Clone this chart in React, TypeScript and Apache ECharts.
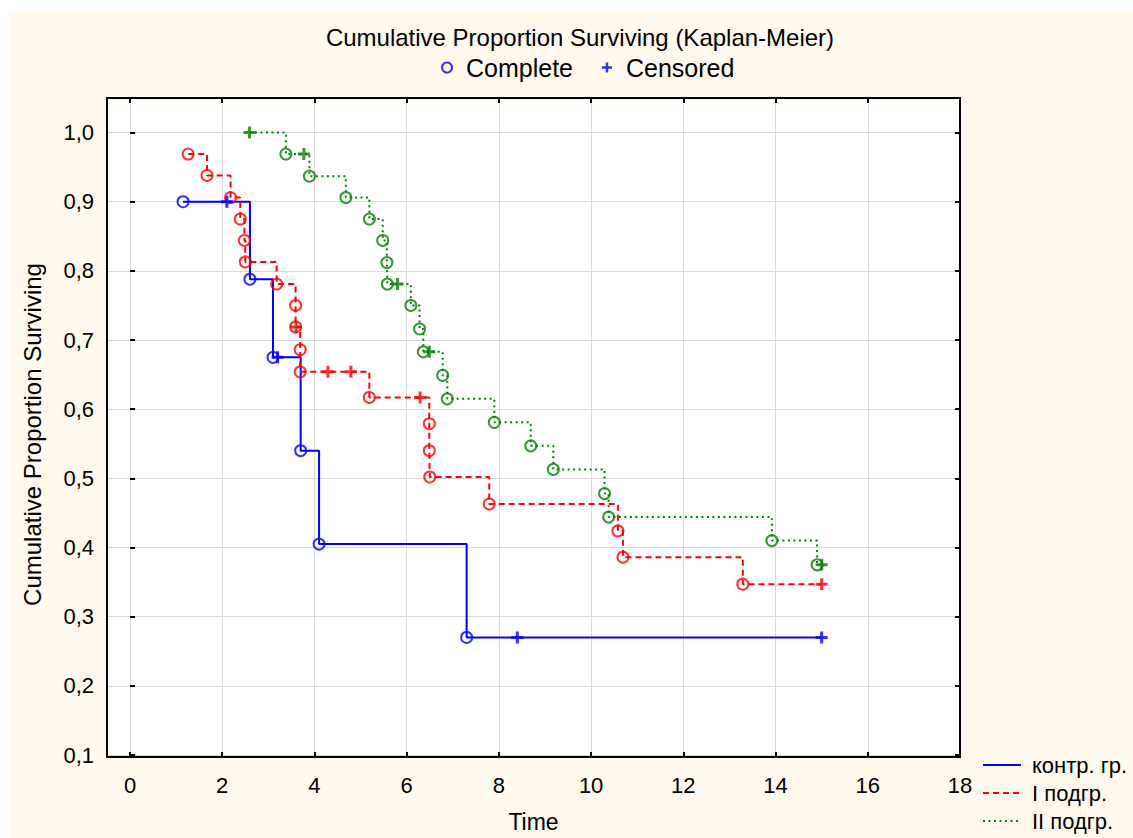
import React, { useEffect, useRef } from "react";
import * as echarts from "echarts";

// ---- data (time, cumulative proportion surviving, censored flag) ----
const blueTime = [1.15, 2.1, 2.6, 3.1, 3.2, 3.7, 4.1, 7.3, 8.4, 15.0];
const blueSurv = [0.9, 0.9, 0.788, 0.675, 0.675, 0.54, 0.405, 0.27, 0.27, 0.27];
const blueCens = [0, 1, 0, 0, 1, 0, 0, 0, 1, 1];

const redTime = [1.26, 1.67, 2.18, 2.39, 2.48, 2.5, 3.18, 3.59, 3.59, 3.6, 3.69, 3.69, 4.29, 4.79, 5.19, 6.29, 6.49, 6.49, 6.5, 7.79, 10.58, 10.69, 13.29, 15.0];
const redSurv = [0.969, 0.938, 0.906, 0.875, 0.844, 0.813, 0.781, 0.75, 0.719, 0.719, 0.686, 0.654, 0.654, 0.654, 0.617, 0.617, 0.579, 0.54, 0.502, 0.463, 0.424, 0.386, 0.347, 0.347];
const redCens = [0, 0, 0, 0, 0, 0, 0, 0, 0, 1, 0, 0, 1, 1, 0, 1, 0, 0, 0, 0, 0, 0, 0, 1];

const greenTime = [2.59, 3.38, 3.77, 3.89, 4.68, 5.19, 5.48, 5.57, 5.58, 5.8, 6.09, 6.28, 6.36, 6.49, 6.78, 6.88, 7.9, 8.69, 9.18, 10.29, 10.38, 13.92, 14.9, 15.0];
const greenSurv = [1.0, 0.969, 0.969, 0.937, 0.906, 0.875, 0.844, 0.812, 0.781, 0.781, 0.75, 0.716, 0.683, 0.683, 0.649, 0.615, 0.581, 0.547, 0.513, 0.478, 0.444, 0.41, 0.375, 0.375];
const greenCens = [1, 0, 1, 0, 0, 0, 0, 0, 0, 1, 0, 0, 0, 1, 0, 0, 0, 0, 0, 0, 0, 0, 0, 1];

const groupNames = ["контр. гр.", "I подгр.", "II подгр."];
const markerNames = ["Complete", "Censored"];
const titleText = "Cumulative Proportion Surviving (Kaplan-Meier)";
const xName = "Time";
const yName = "Cumulative Proportion Surviving";

const BLUE = "#0000ff";
const RED = "#ff0000";
const GREEN = "#008000";
const FONT = "'Liberation Sans', Arial, Helvetica, sans-serif";
const PLUS = "path://M3.75,0H6.25V3.75H10V6.25H6.25V10H3.75V6.25H0V3.75H3.75Z";

const pts = (t: number[], s: number[]) => t.map((v, i) => [v, s[i]]);
const pick = (t: number[], s: number[], c: number[], flag: number) =>
  t.map((v, i) => [v, s[i], c[i]]).filter((p) => p[2] === flag).map((p) => [p[0], p[1]]);

function buildOption() {
  const groups = [
    { name: groupNames[0], t: blueTime, s: blueSurv, c: blueCens, color: BLUE, type: "solid" as any },
    { name: groupNames[1], t: redTime, s: redSurv, c: redCens, color: RED, type: [6, 4] as any },
    { name: groupNames[2], t: greenTime, s: greenSurv, c: greenCens, color: GREEN, type: [2, 3.5] as any },
  ];
  const series: any[] = [];
  groups.forEach((g) => {
    series.push({
      name: g.name,
      type: "line",
      step: "end",
      xAxisIndex: 0,
      yAxisIndex: 0,
      symbol: "none",
      data: pts(g.t, g.s),
      lineStyle: { color: g.color, width: 2, type: g.type },
      itemStyle: { color: g.color },
      z: 2,
    });
  });
  groups.forEach((g) => {
    series.push({
      name: g.name + " complete",
      type: "scatter",
      xAxisIndex: 0,
      yAxisIndex: 0,
      symbol: "circle",
      symbolSize: 11,
      data: pick(g.t, g.s, g.c, 0),
      itemStyle: { color: "rgba(0,0,0,0)", borderColor: g.color, borderWidth: 2 },
      z: 3,
    });
    series.push({
      name: g.name + " censored",
      type: "scatter",
      xAxisIndex: 0,
      yAxisIndex: 0,
      symbol: PLUS,
      symbolSize: 12,
      data: pick(g.t, g.s, g.c, 1),
      itemStyle: { color: g.color },
      z: 4,
    });
  });
  series.push({
    name: markerNames[0],
    type: "scatter",
    xAxisIndex: 1,
    yAxisIndex: 2,
    symbol: "circle",
    data: [],
    itemStyle: { color: "rgba(0,0,0,0)", borderColor: BLUE, borderWidth: 2 },
  });
  series.push({
    name: markerNames[1],
    type: "scatter",
    xAxisIndex: 1,
    yAxisIndex: 2,
    symbol: PLUS,
    data: [],
    itemStyle: { color: BLUE },
  });

  const tickStyle = { inside: true, length: 5, lineStyle: { color: "#000", width: 2 } };
  const gridColor = "#d9d9d9";

  return {
    animation: false,
    backgroundColor: "#fff9ee",
    textStyle: { fontFamily: FONT, color: "#000" },
    title: {
      text: titleText,
      left: 571,
      top: 14,
      padding: 0,
      textAlign: "center",
      textStyle: { fontSize: 24, fontWeight: "normal", color: "#000", fontFamily: FONT },
    },
    legend: [
      {
        data: [
          { name: markerNames[0], icon: "circle", itemStyle: { color: "rgba(0,0,0,0)", borderColor: BLUE, borderWidth: 2 } },
          { name: markerNames[1], icon: PLUS, itemStyle: { color: BLUE } },
        ],
        left: 432,
        top: 44,
        padding: 0,
        itemWidth: 10,
        itemHeight: 10,
        itemGap: 29,
        selectedMode: false,
        textStyle: { fontSize: 25, color: "#000", fontFamily: FONT, padding: [0, 0, 0, 9] },
      },
      {
        data: groupNames,
        orient: "vertical",
        left: 973,
        top: 743,
        padding: 0,
        itemWidth: 38,
        itemHeight: 14,
        itemGap: 6,
        selectedMode: false,
        itemStyle: { opacity: 0, color: "rgba(0,0,0,0)", borderWidth: 0 },
        textStyle: { fontSize: 22, color: "#000", fontFamily: FONT, padding: [0, 0, 0, 6] },
      },
    ],
    grid: [
      { left: 98, top: 87, width: 853, height: 659, show: true, backgroundColor: "#fff", borderWidth: 0, containLabel: false },
      { left: 121, top: 87, width: 830, height: 659, show: false, containLabel: false },
    ],
    xAxis: [
      {
        gridIndex: 0,
        type: "value",
        min: -0.5,
        max: 18,
        position: "bottom",
        axisLine: { show: false },
        axisTick: { show: false },
        axisLabel: { show: false },
        splitLine: { show: false },
        name: xName,
        nameLocation: "middle",
        nameGap: 55,
        nameTextStyle: { fontSize: 23, color: "#000", fontFamily: FONT },
      },
      {
        gridIndex: 1,
        type: "value",
        min: 0,
        max: 18,
        interval: 2,
        position: "bottom",
        axisLine: { show: false },
        axisTick: tickStyle,
        axisLabel: { fontSize: 22, color: "#000", margin: 17, fontFamily: FONT },
        splitLine: { show: true, lineStyle: { color: gridColor, width: 1 } },
      },
      {
        gridIndex: 1,
        type: "value",
        min: 0,
        max: 18,
        interval: 2,
        position: "top",
        axisLine: { show: false },
        axisTick: tickStyle,
        axisLabel: { show: false },
        splitLine: { show: false },
      },
    ],
    yAxis: [
      {
        gridIndex: 0,
        type: "value",
        min: 0.1,
        max: 1.05,
        interval: 0.1,
        position: "left",
        axisLine: { show: false },
        axisTick: tickStyle,
        axisLabel: {
          fontSize: 22,
          color: "#000",
          margin: 13,
          fontFamily: FONT,
          showMaxLabel: false,
          formatter: (v: number) => v.toFixed(1).replace(".", ","),
        },
        splitLine: { show: true, lineStyle: { color: gridColor, width: 1 } },
        name: yName,
        nameLocation: "middle",
        nameGap: 63,
        nameTextStyle: { fontSize: 24, color: "#000", fontFamily: FONT, padding: [0, 16, 0, 0] },
      },
      {
        gridIndex: 0,
        type: "value",
        min: 0.1,
        max: 1.05,
        interval: 0.1,
        position: "right",
        axisLine: { show: false },
        axisTick: tickStyle,
        axisLabel: { show: false },
        splitLine: { show: false },
      },
      { gridIndex: 1, type: "value", min: 0.1, max: 1.05, show: false },
    ],
    graphic: [
      {
        type: "rect",
        z: 100,
        silent: true,
        shape: { x: 98, y: 87, width: 853, height: 659 },
        style: { fill: "none", stroke: "#000", lineWidth: 2 },
      },
    ],
    series,
  };
}

export default function App() {
  const ref = useRef<HTMLDivElement>(null);
  useEffect(() => {
    if (!ref.current) return;
    const chart = echarts.init(ref.current, undefined, { renderer: "svg" });
    chart.setOption(buildOption() as any);
    return () => chart.dispose();
  }, []);
  return (
    <div
      ref={ref}
      style={{ position: "fixed", left: 9, top: 11, width: 1124, height: 827 }}
    />
  );
}
